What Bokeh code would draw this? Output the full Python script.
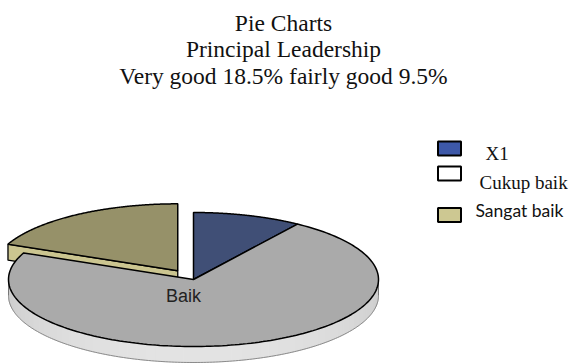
import numpy as np
from bokeh.plotting import figure
from bokeh.models import Range1d
from bokeh.core.properties import value
from bokeh.embed import file_html
from bokeh.resources import INLINE

# ---- data ----
title_lines = ["Pie Charts", "Principal Leadership", "Very good 18.5% fairly good 9.5%"]
slice_names = ["X1", "Baik", "Sangat baik"]          # clockwise from 12 o'clock
slice_shares = [9.5, 72.0, 18.5]                      # percent
slice_explode = [0.0, 0.0, 0.155]
slice_top_colors = ["#404f76", "#aaaaaa", "#969169"]
slice_face_colors = ["#5a6a95", "#cfcfcf", "#cbc590"]
legend_labels = ["X1", "Cukup baik", "Sangat baik"]
legend_colors = ["#3d58a8", "#ffffff", "#cdc892"]
slice_label = "Baik"

SERIF = value("Liberation Serif")

# ---- geometry (layout, in page pixels) ----
cx, cy, rx, ry, depth = 193.0, 279.0, 185.0, 67.0, 16.0
W, H = 572, 363

p = figure(width=W, height=H, output_backend="svg", toolbar_location=None,
           x_range=Range1d(0, W), y_range=Range1d(H, 0),
           min_border=0, outline_line_color=None, background_fill_color="white")
p.axis.visible = False
p.grid.visible = False

def rim(t_deg, ox, oy, dz=0.0):
    t = np.radians(t_deg)
    return cx + ox + rx * np.sin(t), cy + oy - ry * np.cos(t) + dz

starts = np.concatenate([[0], np.cumsum(slice_shares)[:-1]]) * 3.6
ends = np.cumsum(slice_shares) * 3.6

tops = []
for i, name in enumerate(slice_names):
    t0, t1 = starts[i], ends[i]
    mid = np.radians((t0 + t1) / 2)
    e = slice_explode[i]
    ox, oy = e * rx * np.sin(mid), -e * ry * np.cos(mid)
    if 180 < t0 < 360 and e > 0:
        rx0, ry0 = rim(t0, ox, oy)
        ax, ay = cx + ox, cy + oy
        p.patch([ax, rx0, rx0, ax], [ay, ry0, ry0 + depth, ay + depth],
                fill_color=slice_face_colors[i], line_color="black", line_width=1.3)
    a0, a1 = max(t0, 90), min(t1, 270)
    if a1 > a0:
        edges = np.linspace(a0, a1, 61)
        xs_l, ys_l, cols = [], [], []
        for k in range(len(edges) - 1):
            ta = np.linspace(edges[k], edges[k + 1], 4)
            xt, yt = rim(ta, ox, oy)
            xb, yb = rim(ta[::-1], ox, oy, depth)
            xs_l.append(list(xt) + list(xb))
            ys_l.append(list(yt) + list(yb))
            m = (edges[k] + edges[k + 1]) / 2
            s = 0.5 + 0.5 * np.sin(np.radians(m - 90))
            g = int(178 + 50 * s)
            cols.append("#%02x%02x%02x" % (g, g, g))
        p.patches(xs_l, ys_l, fill_color=cols, line_color=cols, line_width=1)
        ta = np.linspace(a0, a1, 200)
        xb, yb = rim(ta, ox, oy, depth)
        p.line(xb, yb, line_color="#8a8a8a", line_width=1)
        for a in (a0, a1):
            xa, ya = rim(np.array([a, a]), ox, oy, 0)
            p.line(xa, [ya[0], ya[0] + depth], line_color="#777777", line_width=1)
    tops.append((i, t0, t1, ox, oy))

for i, t0, t1, ox, oy in tops:
    ta = np.linspace(t0, t1, 200)
    xr, yr = rim(ta, ox, oy)
    xs = [cx + ox] + list(xr)
    ys = [cy + oy] + list(yr)
    p.patch(xs, ys, fill_color=slice_top_colors[i], line_color="black", line_width=1.5)

p.text([cx - 10], [cy + 16], text=[slice_label], text_font=value("Liberation Sans"),
       text_font_size="18px", text_align="center", text_baseline="middle", text_color="#222222")

p.text([283] * 3, [22, 48.5, 75], text=title_lines, text_font=SERIF,
       text_font_size="23.5px", text_align="center", text_baseline="middle", text_color="#111111")

ly = [148, 173, 214.5]
p.rect([449] * 3, ly, width=23, height=14, fill_color=legend_colors,
       line_color="black", line_width=2)
p.text([485, 479], [153, 182], text=legend_labels[:2], text_font=SERIF,
       text_font_size="19px", text_align="left", text_baseline="middle", text_color="#111111")
p.text([475], [210], text=legend_labels[2:], text_font=value("Lato"),
       text_font_size="17.5px", text_align="left", text_baseline="middle", text_color="#111111")

open("out.html", "w").write(file_html(p, INLINE))
